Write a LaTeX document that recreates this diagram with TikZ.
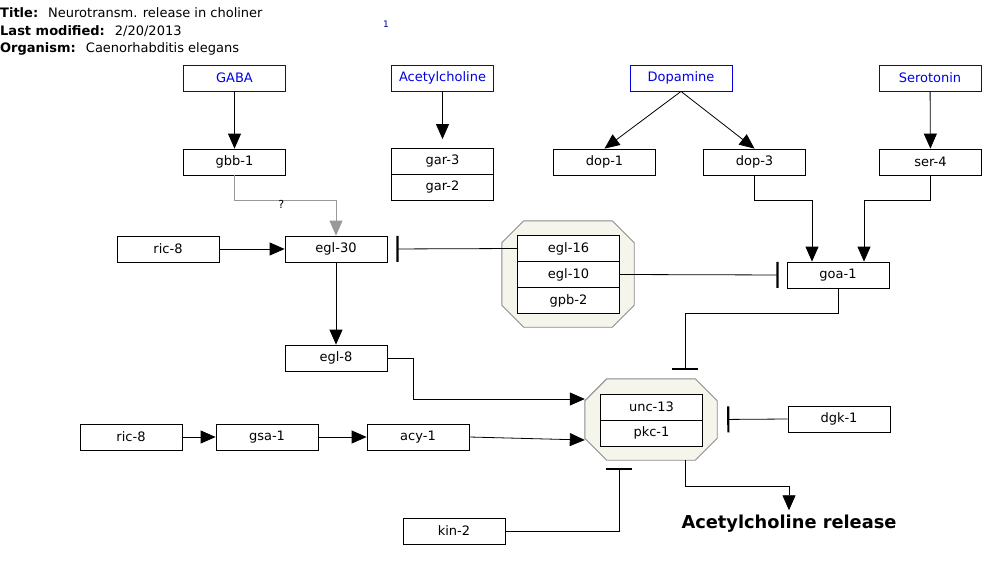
\documentclass[tikz,border=0pt]{standalone}
\usepackage{fontspec}
\setmainfont{DejaVu Sans}
\usetikzlibrary{arrows.meta,positioning}

\definecolor{grpfill}{HTML}{F5F5EC}
\definecolor{grpline}{HTML}{8C8C8C}
\definecolor{metblue}{HTML}{0000E6}

% octagonal outline round a group node
\newcommand{\grpoutline}[1]{%
	\draw[grpbox] ([xshift=22pt]#1.north west) -- ([xshift=-22pt]#1.north east)
		-- ([yshift=-22pt]#1.north east) -- ([yshift=22pt]#1.south east)
		-- ([xshift=-22pt]#1.south east) -- ([xshift=22pt]#1.south west)
		-- ([yshift=22pt]#1.south west) -- ([yshift=-22pt]#1.north west) -- cycle;}

\begin{document}
\begin{tikzpicture}[
			x=1pt, y=-1pt,
			gene/.style={
				rectangle,
				draw=black,
				line width=0.8pt,
				fill=white,
				minimum width=102pt,
				minimum height=26pt,
				inner sep=0pt,
				align=center,
				font=\fontsize{13}{15}\selectfont
			},
			metab/.style={
				gene,
				draw=metblue,
				text=metblue
			},
			group/.style={
				rectangle,
				inner sep=0pt
			},
			grpbox/.style={draw=grpline, fill=grpfill, line width=0.9pt},
			info/.style={anchor=base west, inner sep=0pt, font=\fontsize{13}{15}\selectfont},
			act/.style={-{Triangle[length=15pt,width=13pt]},line width=0.8pt},
			inh/.style={-{Bar[width=26pt,line width=2.2pt]},line width=0.8pt}
			]
			\useasboundingbox (0,0) rectangle (1000,562);
			
			% header
			\node[info] (title) at (0,17) {\textbf{Title:}\hspace{10pt}Neurotransm. release in choliner};
			\node[info] (modified) at (0,35) {\textbf{Last modified:}\hspace{10pt}2/20/2013};
			\node[info] (organism) at (0,52) {\textbf{Organism:}\hspace{10pt}Caenorhabditis elegans};
			\node[inner sep=0pt, text=metblue!60!black, font=\fontsize{9}{10}\selectfont] (pagenum) at (386,24) {1};
			
			% groups
			\node[group, minimum width=132pt, minimum height=106pt] (grp1) at (568,274) {};
			\node[group, minimum width=132pt, minimum height=81pt] (grp2) at (651,419.5) {};
			\grpoutline{grp1}
			\grpoutline{grp2}
			
			% neurotransmitters
			\node[metab] (gaba) at (234.5,78) {GABA};
			\node[metab] (ach) at (442.5,78) {Acetylcholine};
			\node[metab] (dopa) at (681,78) {Dopamine};
			\node[metab] (sero) at (930,78) {Serotonin};
			
			% receptors
			\node[gene] (gbb1) at (234.5,162) {gbb-1};
			\node[gene] (gar3) at (442.5,161.5) {gar-3};
			\node[gene, below=-0.8pt of gar3] (gar2) {gar-2};
			\node[gene] (dop1) at (604.5,162) {dop-1};
			\node[gene] (dop3) at (754.5,162) {dop-3};
			\node[gene] (ser4) at (930.5,162) {ser-4};
			
			% g proteins
			\node[gene] (ricA) at (168,249) {ric-8};
			\node[gene] (egl30) at (336,249) {egl-30};
			\node[gene] (egl16) at (568.5,248.5) {egl-16};
			\node[gene, below=-0.8pt of egl16] (egl10) {egl-10};
			\node[gene, below=-0.8pt of egl10] (gpb2) {gpb-2};
			\node[gene] (goa1) at (838,275) {goa-1};
			\node[gene] (egl8) at (336,358) {egl-8};
			
			% release machinery
			\node[gene] (unc13) at (651.5,407) {unc-13};
			\node[gene, below=-0.8pt of unc13] (pkc1) {pkc-1};
			\node[gene] (dgk1) at (839,419) {dgk-1};
			\node[gene] (ricB) at (131,437) {ric-8};
			\node[gene] (gsa1) at (267,437) {gsa-1};
			\node[gene] (acy1) at (418,437) {acy-1};
			\node[gene] (kin2) at (454,531) {kin-2};
			\node[anchor=base, inner sep=1pt, font=\fontsize{17.8}{20}\selectfont\bfseries] (release) at (789,528) {Acetylcholine release};
			
			\draw[act] (gaba) -- (gbb1);
			\draw[act, shorten >=9pt] (ach) -- (gar3);
			\draw[act] (dopa.south) -- (dop1.north);
			\draw[act] (dopa.south) -- (dop3.north);
			\draw[act] (sero) -- (ser4);
			\draw[act, color=black!40] (gbb1.south) -- ++(0,25) -| node[pos=0.23, below=0pt, inner sep=0pt, text=black, font=\fontsize{11}{12}\selectfont] (qmark) {?} (egl30.north);
			\draw[act] (ricA) -- (egl30);
			\draw[inh, shorten >=9pt] (egl16.west) -- (egl30.east);
			\draw[inh, shorten >=8pt] (egl10.east) -- (goa1.west);
			\draw[act] (dop3.south) -- ++(0,25) -| ([xshift=-26pt]goa1.north);
			\draw[act] (ser4.south) -- ++(0,25) -| ([xshift=26pt]goa1.north);
			\draw[inh, shorten >=9pt] (goa1.south) -- ++(0,25) -| ([xshift=34pt]grp2.north);
			\draw[act] (egl30) -- (egl8);
			\draw[act] (egl8.east) -- ++(26,0) |- ([yshift=20.5pt]grp2.west);
			\draw[act] (ricB) -- (gsa1);
			\draw[act] (gsa1) -- (acy1);
			\draw[act] (acy1.east) -- ([yshift=-20.5pt]grp2.west);
			\draw[inh, shorten >=10pt] (dgk1.west) -- (grp2.east);
			\draw[inh, shorten >=8pt] (kin2.east) -| ([xshift=-32pt]grp2.south);
			\draw[act, shorten >=3pt] ([xshift=34pt]grp2.south) -- ++(0,26) -| (release.north);
		\end{tikzpicture}
\end{document}
